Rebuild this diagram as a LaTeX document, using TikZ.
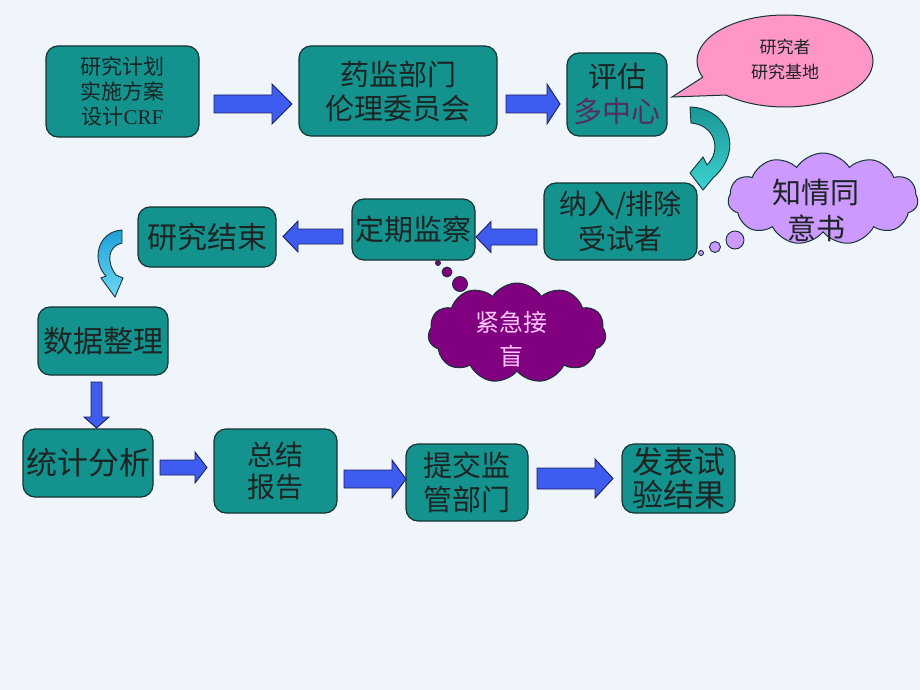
\documentclass[tikz,border=0pt]{standalone}
\usepackage{fontspec}
\setmainfont{Noto Sans CJK SC}
\newfontfamily\latserif{Liberation Serif}
\usetikzlibrary{shapes.symbols,shapes.geometric}
\definecolor{bgc}{RGB}{239,245,251}
\definecolor{tealbox}{RGB}{20,146,141}
\definecolor{boxline}{RGB}{22,52,52}
\definecolor{boxtext}{RGB}{28,36,36}
\definecolor{arrowblue}{RGB}{62,92,240}
\definecolor{arrowline}{RGB}{30,30,90}
\definecolor{pinkc}{RGB}{255,150,200}
\definecolor{lilac}{RGB}{204,153,255}
\definecolor{purplec}{RGB}{128,0,128}
\definecolor{palepink}{RGB}{255,200,255}
\definecolor{midpurple}{RGB}{85,45,95}
\definecolor{tealdark}{RGB}{26,150,150}
\definecolor{teallight}{RGB}{60,210,210}
\definecolor{skydark}{RGB}{30,160,215}
\definecolor{skylight}{RGB}{110,215,245}
\newcommand\myfs[2]{\fontsize{#1}{#2}\selectfont}
% horizontal block arrow: tail x, head base x, tip x, y, shaft half, head half
\newcommand\hblock[6]{\draw[blockarrow] (#1,{#4-#5}) -- (#2,{#4-#5}) -- (#2,{#4-#6}) -- (#3,#4) -- (#2,{#4+#6}) -- (#2,{#4+#5}) -- (#1,{#4+#5}) -- cycle;}
% vertical block arrow: x, tail y, head base y, tip y, shaft half, head half
\newcommand\vblock[6]{\draw[blockarrow] ({#1-#5},#2) -- ({#1-#5},#3) -- ({#1-#6},#3) -- (#1,#4) -- ({#1+#6},#3) -- ({#1+#5},#3) -- ({#1+#5},#2) -- cycle;}
\begin{document}
\begin{tikzpicture}[x=1pt,y=-1pt,
  box/.style={draw=boxline, fill=tealbox, rounded corners=12pt, line width=1.2pt,
    align=center, inner sep=0pt, text=boxtext},
  blockarrow/.style={draw=arrowline, fill=arrowblue, line width=0.9pt, line join=miter},
  bubble/.style={draw=boxline, line width=0.9pt},
  cloudnode/.style={cloud, cloud puffs=11, cloud puff arc=115, cloud ignores aspect,
    draw=boxline, line width=1pt, inner sep=0pt}]
\useasboundingbox (0,0) rectangle (920,690);
\fill[bgc] (0,0) rectangle (920,690);

% boxes
\node[box, minimum width=153pt, minimum height=91pt, font=\myfs{21}{25}] (plan) at (122.5,91.5)
  {研究计划\\实施方案\\设计{\latserif CRF}};
\node[box, minimum width=198pt, minimum height=90pt, font=\myfs{29}{34}] (ethics) at (398,91)
  {药监部门\\伦理委员会};
\node[box, minimum width=100pt, minimum height=83pt, font=\myfs{29}{35}] (eval) at (617,94.5)
  {评估\\\textcolor{midpurple}{多中心}};
\node[box, minimum width=153pt, minimum height=77pt, font=\myfs{28}{35}] (incl) at (620.5,221.5)
  {纳入/排除\\受试者};
\node[box, minimum width=123pt, minimum height=61pt, font=\myfs{29}{34}] (monitor) at (413.5,229.5)
  {定期监察};
\node[box, minimum width=138pt, minimum height=60pt, font=\myfs{30}{34}] (end) at (207,237)
  {研究结束};
\node[box, minimum width=130pt, minimum height=68pt, font=\myfs{30}{34}] (data) at (103,341)
  {数据整理};
\node[box, minimum width=130pt, minimum height=68pt, font=\myfs{31}{34}] (stat) at (88,463)
  {统计分析};
\node[box, minimum width=123pt, minimum height=84pt, font=\myfs{28}{32}] (report) at (275.5,471)
  {总结\\报告};
\node[box, minimum width=122pt, minimum height=77pt, font=\myfs{29}{34}] (submit) at (467,482.5)
  {提交监\\管部门};
\node[box, minimum width=113pt, minimum height=69pt, font=\myfs{31}{33}] (publish) at (678.5,478.5)
  {发表试\\验结果};

% block arrows
\hblock{214}{272}{292}{104}{9}{20}
\hblock{506}{547}{560}{104}{9}{20}
\hblock{537}{491}{476}{237}{8}{15.5}
\hblock{343}{298}{283}{236.5}{7.5}{15.5}
\vblock{96.5}{382}{417}{428}{5.5}{12.5}
\hblock{160}{195}{207}{467.5}{7.5}{15.5}
\hblock{344}{392}{406}{479}{9}{19}
\hblock{537}{595}{613}{478.5}{10.5}{19.5}

% curved arrows
\draw[draw=boxline, line width=0.9pt, top color=tealdark, bottom color=teallight]
  (690,107) .. controls (728,108) and (745,150) .. (713,178) -- (703,190) -- (690,173)
  -- (703,157) -- (707,165) .. controls (722,150) and (715,125) .. (691,123) -- cycle;
\draw[draw=boxline, line width=0.9pt, top color=skydark, bottom color=skylight]
  (122,230) .. controls (96,232) and (92,262) .. (106,276) -- (101,278) -- (115,297)
  -- (123,278) -- (116,275) .. controls (106,262) and (108,246) .. (122,243) -- cycle;

% pink callout
\node[ellipse, draw=boxline, fill=pinkc, line width=1pt, minimum width=176pt,
  minimum height=92pt, inner sep=0pt] (callout) at (785,61) {};
\fill[pinkc] (703,77) -- (672,97) -- (727,95) -- (745,70) -- cycle;
\draw[boxline, line width=1pt, line join=miter] (703,77) -- (672,97) -- (727,95);
\node[align=center, text=boxtext, font=\myfs{17}{25}] (callouttext) at (785,60)
  {研究者\\研究基地};

% lilac thought cloud
\draw[bubble, fill=lilac] (701,253) circle (2.5);
\draw[bubble, fill=lilac] (715,247) circle (5.5);
\draw[bubble, fill=lilac] (735,240) circle (9);
\node[cloudnode, fill=lilac, minimum width=190pt, minimum height=92pt] (consent) at (823,199) {};
\node[align=center, text=boxtext, font=\myfs{29}{36}] (consenttext) at (816,210) {知情同\\意书};

% purple thought cloud
\draw[bubble, fill=purplec] (438,263) circle (2.5);
\draw[bubble, fill=purplec] (447,272) circle (5);
\draw[bubble, fill=purplec] (460,284) circle (7.5);
\node[cloudnode, fill=purplec, minimum width=178pt, minimum height=100pt] (blind) at (517,333) {};
\node[align=center, text=palepink, font=\myfs{24}{34}] (blindtext) at (511,339) {紧急接\\盲};
\end{tikzpicture}
\end{document}
